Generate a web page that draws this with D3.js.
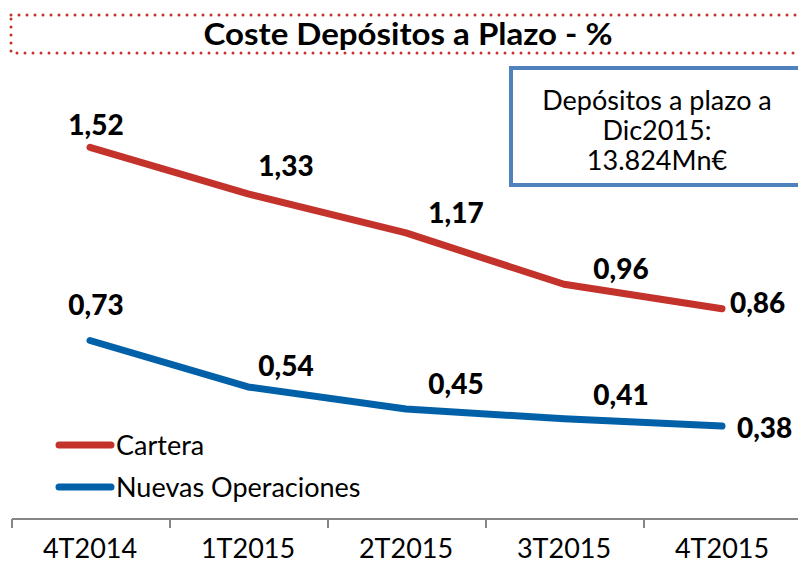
<!DOCTYPE html>
<html><head><meta charset="utf-8">
<script src="https://cdn.jsdelivr.net/npm/d3@7"></script>
<style>body{margin:0;background:#fff}svg{display:block}</style>
</head><body>
<script>
const categories = ["4T2014","1T2015","2T2015","3T2015","4T2015"];
const cartera = [1.52,1.33,1.17,0.96,0.86];
const nuevas = [0.73,0.54,0.45,0.41,0.38];
const seriesNames = ["Cartera","Nuevas Operaciones"];
const title = "Coste Depósitos a Plazo - %";
const noteLines = ["Depósitos a plazo a","Dic2015:","13.824Mn€"];

const W=798,H=565;
const RED="#C3332C", BLUE="#0061A9";
const FONT="Lato, 'DejaVu Sans', sans-serif";
const svg=d3.select("body").append("svg").attr("width",W).attr("height",H);

const x=d3.scaleBand().domain(categories).range([12,802]);
const y=d3.scaleLinear().domain([0,2]).range([519,30]);
const cx=c=>x(c)+x.bandwidth()/2 - 1;

// title box
svg.append("rect").attr("x",11).attr("y",15).attr("width",800).attr("height",38)
  .attr("fill","none").attr("stroke",RED).attr("stroke-width",3)
  .attr("stroke-dasharray","0 8").attr("stroke-linecap","round");
svg.append("text").attr("x",408).attr("y",45).attr("text-anchor","middle")
  .attr("font-family",FONT).attr("font-weight","bold")
  .attr("font-size",31).attr("fill","#000")
  .attr("textLength",409).attr("lengthAdjust","spacingAndGlyphs").text(title);

// note box
svg.append("rect").attr("x",511).attr("y",68).attr("width",300).attr("height",117)
  .attr("fill","#fff").attr("stroke","#4F81BD").attr("stroke-width",4);
svg.selectAll("text.note").data(noteLines).join("text").attr("class","note")
  .attr("x",657).attr("y",(d,i)=>110+i*30).attr("text-anchor","middle")
  .attr("font-family",FONT).attr("font-size",27).attr("fill","#000").text(d=>d);

// axis
const gx=svg.append("g").attr("transform","translate(0,519)");
gx.append("line").attr("x1",12).attr("x2",802).attr("stroke","#868686").attr("stroke-width",2);
gx.selectAll("line.tk").data(d3.range(categories.length+1)).join("line").attr("class","tk")
  .attr("x1",i=>12+i*x.step()).attr("x2",i=>12+i*x.step()).attr("y1",0).attr("y2",9)
  .attr("stroke","#868686").attr("stroke-width",2);
gx.selectAll("text").data(categories).join("text")
  .attr("x",d=>cx(d)).attr("y",39).attr("text-anchor","middle")
  .attr("font-family",FONT).attr("font-size",27).attr("fill","#000").text(d=>d);

// lines
const line=d3.line().x((d,i)=>cx(categories[i])).y(d=>y(d));
[[cartera,RED],[nuevas,BLUE]].forEach(([s,c])=>{
  svg.append("path").datum(s).attr("d",line).attr("fill","none").attr("stroke",c)
    .attr("stroke-width",7).attr("stroke-linecap","round").attr("stroke-linejoin","round");
});

// labels (offsets are layout only)
const dxC=[6,38,50,57,8], dyC=[-22,-28,-20,-15,-6];
const dxN=[6,38,50,57,15], dyN=[-36,-21,-25,-24,2];
function labels(s,dx,dy){
  svg.append("g").selectAll("text").data(s).join("text")
    .attr("x",(d,i)=>cx(categories[i])+dx[i]).attr("y",(d,i)=>y(d)+dy[i]+10)
    .attr("text-anchor",(d,i)=>i===4?"start":"middle")
    .attr("font-family",FONT).attr("font-weight","900").attr("font-size",28).attr("fill","#000")
    .text(d=>d.toFixed(2).replace(".",","));
}
labels(cartera,dxC,dyC);
labels(nuevas,dxN,dyN);

// legend
const lg=svg.append("g");
[[seriesNames[0],RED,445],[seriesNames[1],BLUE,487]].forEach(([n,c,yy])=>{
  lg.append("line").attr("x1",59).attr("x2",111).attr("y1",yy).attr("y2",yy)
    .attr("stroke",c).attr("stroke-width",7).attr("stroke-linecap","round");
  lg.append("text").attr("x",116).attr("y",yy+10).attr("font-family",FONT).attr("font-size",27)
    .attr("fill","#000").text(n);
});
</script>
</body></html>
